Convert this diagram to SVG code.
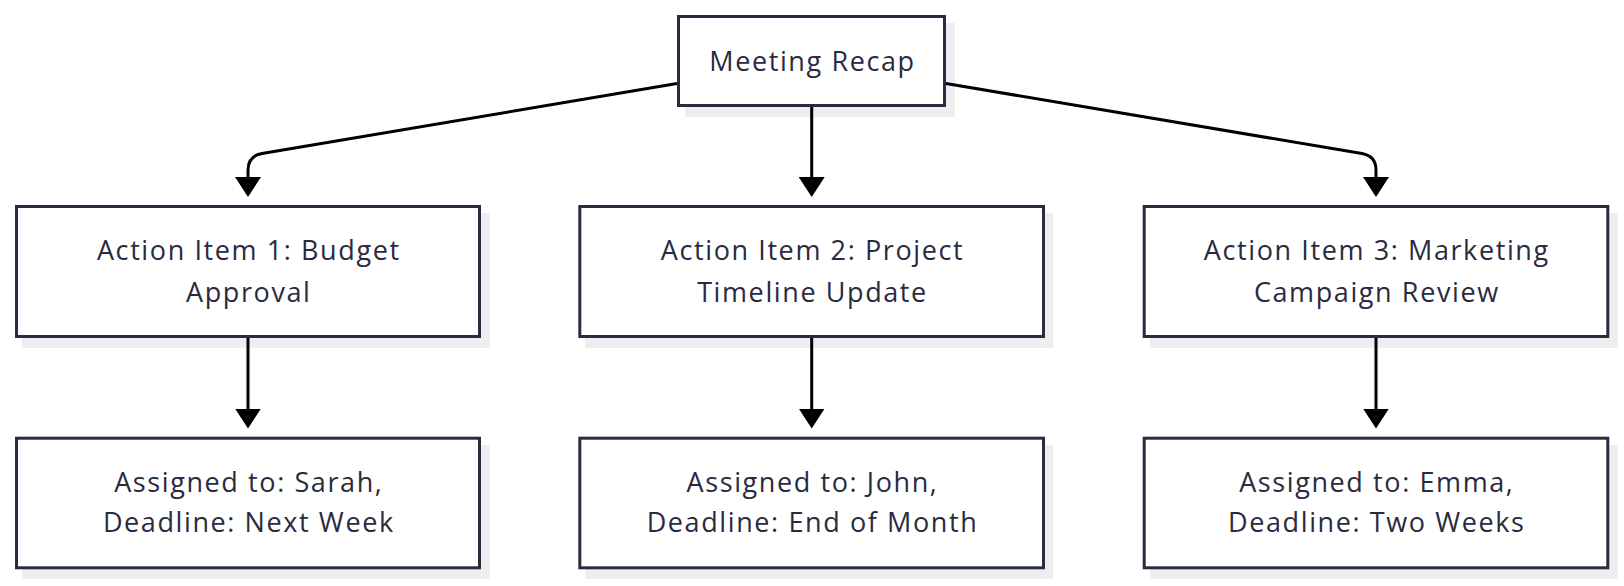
<svg xmlns="http://www.w3.org/2000/svg" width="1624" height="586" viewBox="0 0 1624 586">
<defs>
<style>
.shadow{fill:#eeeeee;stroke:none}
.box{fill:#ffffff;stroke:#2a2a40;stroke-width:3}
.lbl{font-family:"Open Sans","Noto Sans",sans-serif;font-size:27px;letter-spacing:1.6px;fill:#2a2a40;text-anchor:middle}
.edge{fill:none;stroke:#000000;stroke-width:3}
</style>
<marker id="arr" markerUnits="userSpaceOnUse" markerWidth="20" markerHeight="26" viewBox="0 0 20 26" refX="0.5" refY="13" orient="auto">
<path d="M0,0 L20,13 L0,26 z" fill="#000000"/>
</marker>
</defs>
<rect width="1624" height="586" fill="#ffffff"/>
<g id="n0">
<rect class="shadow" x="685" y="23" width="270" height="94"/>
<rect class="box" x="678.5" y="16.5" width="266" height="89"/>
<text class="lbl" x="812.5" y="71">Meeting Recap</text>
</g>
<g id="n1">
<rect class="shadow" x="22" y="213" width="468" height="135"/>
<rect class="box" x="16.5" y="206.5" width="463" height="130"/>
<text class="lbl" x="248.8" y="260">Action Item 1: Budget</text>
<text class="lbl" x="248.8" y="301.7">Approval</text>
</g>
<g id="n2">
<rect class="shadow" x="585" y="213" width="468" height="135"/>
<rect class="box" x="579.8" y="206.5" width="463.7" height="130"/>
<text class="lbl" x="812.5" y="260">Action Item 2: Project</text>
<text class="lbl" x="812.5" y="301.7">Timeline Update</text>
</g>
<g id="n3">
<rect class="shadow" x="1150" y="213" width="468" height="135"/>
<rect class="box" x="1144.2" y="206.5" width="463.6" height="130"/>
<text class="lbl" x="1376.8" y="260">Action Item 3: Marketing</text>
<text class="lbl" x="1376.8" y="301.7">Campaign Review</text>
</g>
<g id="n4">
<rect class="shadow" x="22" y="445" width="468" height="134"/>
<rect class="box" x="16.5" y="438.2" width="463" height="129.6"/>
<text class="lbl" x="248.8" y="491.7">Assigned to: Sarah,</text>
<text class="lbl" x="248.8" y="532.3">Deadline: Next Week</text>
</g>
<g id="n5">
<rect class="shadow" x="585" y="445" width="468" height="134"/>
<rect class="box" x="579.8" y="438.2" width="463.7" height="129.6"/>
<text class="lbl" x="812.5" y="491.7">Assigned to: John,</text>
<text class="lbl" x="812.5" y="532.3">Deadline: End of Month</text>
</g>
<g id="n6">
<rect class="shadow" x="1150" y="445" width="468" height="134"/>
<rect class="box" x="1144.2" y="438.2" width="463.6" height="129.6"/>
<text class="lbl" x="1376.8" y="491.7">Assigned to: Emma,</text>
<text class="lbl" x="1376.8" y="532.3">Deadline: Two Weeks</text>
</g>
<g id="connectors">
<path class="edge" marker-end="url(#arr)" d="M677,83.5 L262,153.5 Q248,156 248,170 L248,177.5"/>
<path class="edge" marker-end="url(#arr)" d="M811.7,107 L811.7,177.5"/>
<path class="edge" marker-end="url(#arr)" d="M946,83.5 L1362,153.5 Q1376,156 1376,170 L1376,177.5"/>
<path class="edge" marker-end="url(#arr)" d="M248,338 L248,409"/>
<path class="edge" marker-end="url(#arr)" d="M811.7,338 L811.7,409"/>
<path class="edge" marker-end="url(#arr)" d="M1376,338 L1376,409"/>
</g>
</svg>
